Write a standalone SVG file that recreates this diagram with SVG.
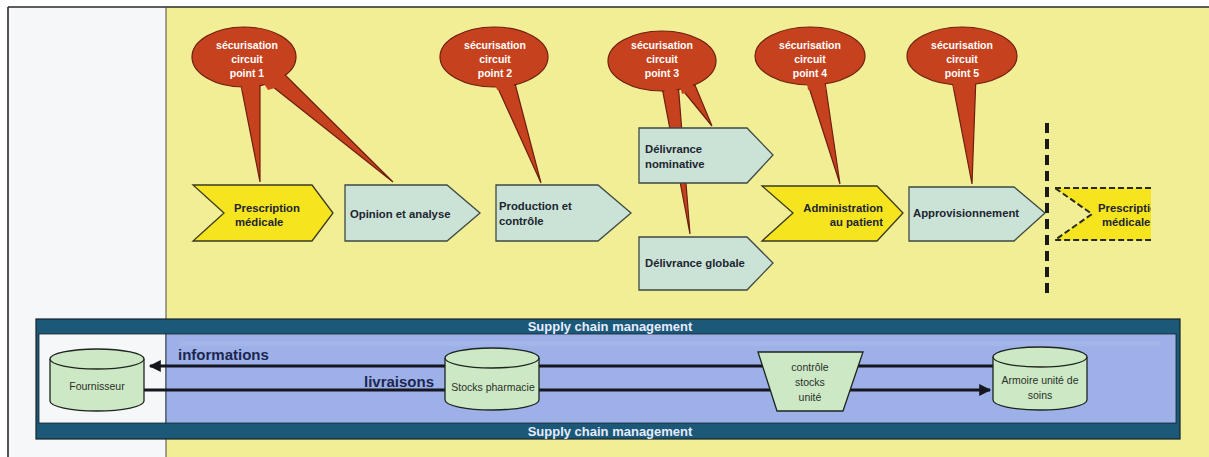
<svg xmlns="http://www.w3.org/2000/svg" width="1209" height="457" viewBox="0 0 1209 457">
<style>
.bln{fill:#c6421e;stroke:#6e1e0e;stroke-width:1.2}
.tailf{fill:#c6421e;stroke:none}
.bt{font-family:"Liberation Sans",Arial,sans-serif;font-weight:bold;font-size:10.5px;fill:#ffffff;text-anchor:middle}
.yel{fill:#f6e41e;stroke:#3a3a22;stroke-width:1.3}
.mint{fill:#cbe3d6;stroke:#3d4a44;stroke-width:1.3}
.lt{font-family:"Liberation Sans",Arial,sans-serif;font-weight:bold;font-size:11.3px;fill:#1c2530}
.cyl{fill:#cde8c4;stroke:#1e2420;stroke-width:1.3}
.ct{font-family:"Liberation Sans",Arial,sans-serif;font-size:10.5px;fill:#2a302a;text-anchor:middle}
.band{font-family:"Liberation Sans",Arial,sans-serif;font-weight:bold;font-size:13px;fill:#e6ecff;text-anchor:middle}
.flow{stroke:#15161e;stroke-width:3;fill:none}
.fl{font-family:"Liberation Sans",Arial,sans-serif;font-weight:bold;font-size:15px;fill:#1c2650}
</style>
<defs>
<marker id="ah" viewBox="0 0 10 10" refX="9" refY="5" markerWidth="4.5" markerHeight="4" orient="auto-start-reverse" markerUnits="strokeWidth">
<path d="M0,0 L10,5 L0,10 z" fill="#15161e"/>
</marker>
<clipPath id="cut"><rect x="1040" y="150" width="111" height="120"/></clipPath>
</defs>

<!-- backgrounds -->
<rect x="0" y="0" width="1209" height="457" fill="#ffffff"/>
<rect x="8" y="7" width="158" height="450" fill="#f6f7f9"/>
<rect x="166" y="7" width="1043" height="450" fill="#f1ee96"/>
<line x1="8" y1="7" x2="1209" y2="7" stroke="#2a2a2a" stroke-width="1.6"/>
<line x1="8" y1="7" x2="8" y2="457" stroke="#2a2a2a" stroke-width="1.6"/>
<line x1="166" y1="7" x2="166" y2="457" stroke="#4a4a40" stroke-width="1"/>

<!-- supply chain box -->
<g id="supply-chain">
<rect x="36" y="319" width="1144" height="120" fill="#1c5877" stroke="#16232b" stroke-width="1.2"/>
<rect x="39" y="334" width="127" height="89" fill="#f6f7f9" stroke="#16232b" stroke-width="0.8"/>
<rect x="166" y="334" width="1010" height="89" fill="#9db1e8" stroke="#16232b" stroke-width="0.8"/>
<rect x="180" y="341" width="980" height="5" fill="#b4c3ee" opacity="0.3"/>
<text class="band" x="610" y="331">Supply chain management</text>
<text class="band" x="610" y="436">Supply chain management</text>
</g>

<!-- dashed separator -->
<line x1="1047" y1="123" x2="1047" y2="295" stroke="#1a1a1a" stroke-width="4" stroke-dasharray="10 6"/>

<!-- connectors -->
<g id="connectors">
<line class="flow" x1="993" y1="366" x2="150" y2="366" marker-end="url(#ah)"/>
<line class="flow" x1="144" y1="390" x2="990" y2="390" marker-end="url(#ah)"/>
<text class="fl" x="178" y="360">informations</text>
<text class="fl" x="364" y="387">livraisons</text>
</g>

<!-- process chain -->
<g id="p-prescription">
<polygon class="yel" points="193,185 312,185 333,213 312,241 193,241 224,213"/>
<text class="lt" x="234" y="211.5">Prescription</text>
<text class="lt" x="235" y="225.5">médicale</text>
</g>
<g id="p-opinion">
<polygon class="mint" points="345,185 447,185 480,213 447,241 345,241"/>
<text class="lt" x="350" y="217.5">Opinion et analyse</text>
</g>
<g id="p-production">
<polygon class="mint" points="496,185 598,185 631,213 598,241 496,241"/>
<text class="lt" x="499" y="210">Production et</text>
<text class="lt" x="499" y="225">contrôle</text>
</g>

<!-- balloon 3 long tail goes behind Délivrance nominative -->
<g id="callout-3">
<polygon class="bln" points="661,82 678,82 690,234"/>
<polygon class="bln" points="676,82 692,78 712,126"/>
<ellipse class="bln" cx="662" cy="61" rx="54" ry="30"/>
<polygon class="tailf" points="663,82 676,82 677,95 665,95"/>
<polygon class="tailf" points="679,82 691,79 694,90 682,94"/>
<text class="bt" x="662" y="49">sécurisation</text>
<text class="bt" x="662" y="63">circuit</text>
<text class="bt" x="662" y="77">point 3</text>
</g>

<g id="p-delivrance-nominative">
<polygon class="mint" points="639,128 747,128 773,155 747,183 639,183"/>
<text class="lt" x="645" y="153">Délivrance</text>
<text class="lt" x="645" y="168">nominative</text>
</g>
<g id="p-delivrance-globale">
<polygon class="mint" points="639,237 747,237 773,263 747,290 639,290"/>
<text class="lt" x="645" y="267">Délivrance globale</text>
</g>
<g id="p-administration">
<polygon class="yel" points="762,186 877,186 903,213 877,241 762,241 793,213"/>
<text class="lt" x="883" y="212" text-anchor="end">Administration</text>
<text class="lt" x="883" y="226" text-anchor="end">au patient</text>
</g>
<g id="p-approvisionnement">
<polygon class="mint" points="909,187 1014,187 1045,213 1014,241 909,241"/>
<text class="lt" x="913" y="217">Approvisionnement</text>
</g>
<g id="p-prescription-next" clip-path="url(#cut)">
<polygon points="1055,188 1175,188 1200,214 1175,240 1055,240 1092,214" fill="#f6e41e" stroke="#2a2a1a" stroke-width="2" stroke-dasharray="6 3"/>
<text class="lt" x="1098" y="212">Prescription</text>
<text class="lt" x="1102" y="226">médicale</text>
</g>

<!-- callouts -->
<g id="callout-1">
<polygon class="bln" points="239,75 260,75 260,182"/>
<polygon class="bln" points="258,75 280,70 393,182"/>
<ellipse class="bln" cx="244" cy="57" rx="52" ry="30"/>
<polygon class="tailf" points="240,76 259,76 259,90 242,90"/>
<polygon class="tailf" points="259,76 280,71 292,83 268,90"/>
<text class="bt" x="247" y="49">sécurisation</text>
<text class="bt" x="247" y="63">circuit</text>
<text class="bt" x="247" y="77">point 1</text>
</g>
<g id="callout-2">
<polygon class="bln" points="492,75 512,72 541,183"/>
<ellipse class="bln" cx="494" cy="57" rx="54" ry="30"/>
<polygon class="tailf" points="493,75 511,73 515,90 497,90"/>
<text class="bt" x="495" y="49">sécurisation</text>
<text class="bt" x="495" y="63">circuit</text>
<text class="bt" x="495" y="77">point 2</text>
</g>
<g id="callout-4">
<polygon class="bln" points="805,75 824,75 840,184"/>
<ellipse class="bln" cx="810" cy="56" rx="55" ry="29"/>
<polygon class="tailf" points="806,76 823,76 826,90 808,90"/>
<text class="bt" x="810" y="49">sécurisation</text>
<text class="bt" x="810" y="63">circuit</text>
<text class="bt" x="810" y="77">point 4</text>
</g>
<g id="callout-5">
<polygon class="bln" points="951,75 976,75 972,184"/>
<ellipse class="bln" cx="962" cy="56" rx="55" ry="29"/>
<polygon class="tailf" points="952,76 975,76 975,90 954,90"/>
<text class="bt" x="962" y="49">sécurisation</text>
<text class="bt" x="962" y="63">circuit</text>
<text class="bt" x="962" y="77">point 5</text>
</g>

<!-- supply chain nodes -->
<g id="n-fournisseur">
<path class="cyl" d="M50,359 L50,401 A47,10 0 0 0 144,401 L144,359"/>
<ellipse class="cyl" cx="97" cy="359" rx="47" ry="10"/>
<text class="ct" x="97" y="390">Fournisseur</text>
</g>
<g id="n-stocks">
<path class="cyl" d="M445,358 L445,400 A47,10 0 0 0 539,400 L539,358"/>
<ellipse class="cyl" cx="492" cy="358" rx="47" ry="10"/>
<text class="ct" x="493" y="391">Stocks pharmacie</text>
</g>
<g id="n-controle">
<polygon points="758,352 863,352 843,411 777,411" fill="#cde8c4" stroke="#1e2420" stroke-width="1.3"/>
<text class="ct" x="810" y="371">contrôle</text>
<text class="ct" x="810" y="386">stocks</text>
<text class="ct" x="810" y="401">unité</text>
</g>
<g id="n-armoire">
<path class="cyl" d="M993,357 L993,400 A47,10 0 0 0 1087,400 L1087,357"/>
<ellipse class="cyl" cx="1040" cy="357" rx="47" ry="10"/>
<text class="ct" x="1040" y="384">Armoire unité de</text>
<text class="ct" x="1040" y="399">soins</text>
</g>
</svg>
